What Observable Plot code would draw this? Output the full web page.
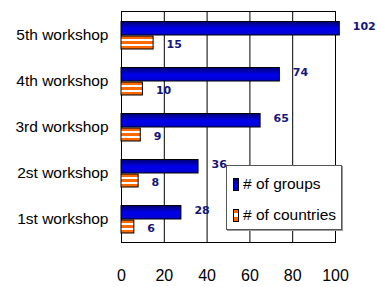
<!DOCTYPE html>
<html><head><meta charset="utf-8">
<script src="https://cdn.jsdelivr.net/npm/d3@7"></script>
<script src="https://cdn.jsdelivr.net/npm/@observablehq/plot@0.6"></script>
<style>
body{margin:0;background:#fff;}
#wrap{position:relative;width:377px;height:287px;}
#legend{position:absolute;left:226px;top:165px;width:116px;height:65px;background:#fff;border:1px solid #555;box-shadow:1px 1px 0 #999;font-family:"Liberation Sans",sans-serif;font-size:15.5px;color:#000;box-sizing:border-box;}
#legend .it{position:absolute;left:6px;display:flex;align-items:center;gap:4px;white-space:nowrap;}
#legend .sw{width:6px;height:13px;border:1px solid #000;box-sizing:border-box;}
</style></head>
<body><div id="wrap"><div id="legend"></div></div>
<script>
const workshops = ["5th workshop","4th workshop","3rd workshop","2st workshop","1st workshop"];
const groups = [102, 74, 65, 36, 28];
const countries = [15, 10, 9, 8, 6];
const xTicks = [0, 20, 40, 60, 80, 100];
const seriesNames = ["# of groups", "# of countries"];

const gData = workshops.map((w,i)=>({w, v:groups[i]}));
const cData = workshops.map((w,i)=>({w, v:countries[i]}));

const labelColor = "#15157a";
const plot = Plot.plot({
  width: 377, height: 287,
  marginLeft: 121, marginRight: 42, marginTop: 11, marginBottom: 45,
  style: {fontFamily: "Liberation Sans, sans-serif", background: "#fff"},
  x: {domain: [0, 100], ticks: xTicks, label: null, grid: false},
  y: {domain: workshops, paddingInner: 0, paddingOuter: 0, label: null},
  marks: [
    Plot.ruleX(xTicks.slice(1), {stroke: "#000", strokeOpacity: 1, strokeWidth: 1}),
    Plot.frame({stroke: "#000", strokeWidth: 1}),
    Plot.barX(gData, {x: "v", y: "w", fill: "url(#blueGrad)", stroke: "#000", strokeWidth: 1, insetTop: 9.5, insetBottom: 23}),
    Plot.barX(cData, {x: "v", y: "w", fill: "url(#orangeStripe)", stroke: "#000", strokeWidth: 1, insetTop: 24, insetBottom: 9}),
    Plot.text(gData, {x: "v", y: "w", text: d => String(d.v), dx: 13, dy: -9, textAnchor: "start", fill: labelColor, fontWeight: "bold", fontSize: 11, fontFamily: "DejaVu Sans, sans-serif"}),
    Plot.text(cData, {x: "v", y: "w", text: d => String(d.v), dx: 13, dy: 9, textAnchor: "start", fill: labelColor, fontWeight: "bold", fontSize: 11, fontFamily: "DejaVu Sans, sans-serif"}),
    Plot.axisX({ticks: xTicks, tickSize: 0, tickPadding: 27, fontSize: 16, label: null}),
    Plot.axisY({tickSize: 0, tickPadding: 13, fontSize: 15.5, label: null})
  ]
});

const svg = d3.select(plot);
const defs = svg.insert("defs", ":first-child");
const bg = defs.append("linearGradient").attr("id","blueGrad").attr("x1",0).attr("y1",0).attr("x2",0).attr("y2",1);
bg.append("stop").attr("offset","0%").attr("stop-color","#000070");
bg.append("stop").attr("offset","55%").attr("stop-color","#0000f0");
bg.append("stop").attr("offset","100%").attr("stop-color","#0000c8");
const og = defs.append("linearGradient").attr("id","orangeStripe").attr("x1",0).attr("y1",0).attr("x2",0).attr("y2",1);
[["0%","#ff6a00"],["22%","#ff6a00"],["22%","#ffffff"],["38%","#ffffff"],["38%","#ff6a00"],["60%","#ff6a00"],["60%","#ffffff"],["76%","#ffffff"],["76%","#ff6a00"],["100%","#ff6a00"]]
  .forEach(([o,c])=>og.append("stop").attr("offset",o).attr("stop-color",c));

document.getElementById("wrap").insertBefore(plot, document.getElementById("legend"));

const legend = document.getElementById("legend");
const fills = ["linear-gradient(#000070,#0000f0 55%,#0000c8)", "linear-gradient(#ff6a00 0 30%,#fff 30% 65%,#ff6a00 65%)"];
seriesNames.forEach((n,i)=>{
  const it = document.createElement("div");
  it.className = "it";
  it.style.top = (i===0 ? 9 : 40) + "px";
  const sw = document.createElement("span"); sw.className = "sw"; sw.style.background = fills[i];
  const t = document.createElement("span"); t.textContent = n;
  it.appendChild(sw); it.appendChild(t);
  legend.appendChild(it);
});
</script>
</body></html>
